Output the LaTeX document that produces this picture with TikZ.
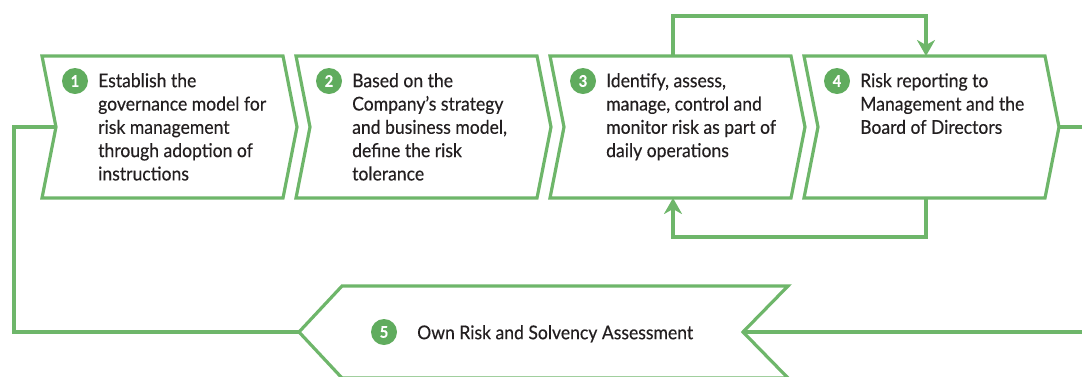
\documentclass[tikz,border=0pt]{standalone}
\usepackage{fontspec}
\setmainfont{Lato}[FakeStretch=0.925,FakeBold=0.35]
\usetikzlibrary{arrows.meta}
\definecolor{flowgreen}{RGB}{110,182,106}
\definecolor{badgegreen}{RGB}{96,172,94}
\definecolor{inktext}{RGB}{35,31,32}
\tikzset{
  flow/.style={draw=flowgreen, line width=3.2pt, line join=miter},
  loopline/.style={draw=flowgreen, line width=3.2pt, -{Stealth[length=16pt,width=18pt,inset=5pt]}},
  badge/.style={circle, fill=badgegreen, minimum size=26pt, inner sep=0pt,
    text=white, font=\fontsize{16}{16}\selectfont\bfseries},
  steptext/.style={anchor=north west, align=left, inner sep=0pt, text=inktext,
    font=\fontsize{19}{23.3}\selectfont}
}
% first line carries a strut so the node top sits a fixed distance above its baseline
\newcommand{\firstline}{\rule{0pt}{16.3pt}}
\begin{document}
\begin{tikzpicture}[x=1pt, y=-1pt]
\useasboundingbox (0,0) rectangle (1082,376);
\clip (0,0) rectangle (1082,376);

% the four chevron steps of the cycle
\foreach \i/\x in {1/42,2/296,3/550,4/804} {
  \draw[flow] (\x,56) -- (\x+241,56) -- (\x+255,127) -- (\x+241,198)
    -- (\x,198) -- (\x+14,127) -- cycle;
  \coordinate (b\i-notch) at (\x+14,127);
  \coordinate (b\i-tip) at (\x+255,127);
  \node[badge] (c\i) at (\x+33,81) {\i};
}
\coordinate (b3-top) at (673,56);
\coordinate (b3-bot) at (673,198);
\coordinate (b4-top) at (926,56);
\coordinate (b4-bot) at (926,198);

\node[steptext] (t1) at (98,70.7) {\firstline Establish the\\governance model for\\risk management\\through adoption of\\instructions};
\node[steptext] (t2) at (352,70.7) {\firstline Based on the\\Company’s strategy\\and business model,\\define the risk\\tolerance};
\node[steptext] (t3) at (606,70.7) {\firstline Identify, assess,\\manage, control and\\monitor risk as part of\\daily operations};
\node[steptext] (t4) at (860,70.7) {\firstline Risk reporting to\\Management and the\\Board of Directors};

% step 5: left-pointing chevron along the bottom
\draw[flow] (299,332) -- (342,286) -- (788,286) -- (743,332) -- (788,378)
  -- (342,378) -- cycle;
\coordinate (b5-tip) at (299,332);
\coordinate (b5-notch) at (743,332);
\node[badge] (c5) at (384,332) {5};
\node[steptext] (t5) at (417,322.7) {\firstline Own Risk and Solvency Assessment};

% feedback loops between steps 3 and 4
\draw[loopline] (b3-top) |- (800,16) -| (b4-top);
\draw[loopline] (b4-bot) |- (800,237) -| (b3-bot);

% outer cycle
\coordinate (leftcorner) at (14,127);
\coordinate (rightout1) at (1090,127);
\coordinate (rightout5) at (1090,332);
\draw[flow] (b1-notch) -- (leftcorner) |- (b5-tip);
\draw[flow] (b4-tip) -- (rightout1);
\draw[flow] (b5-notch) -- (rightout5);
\end{tikzpicture}
\end{document}
